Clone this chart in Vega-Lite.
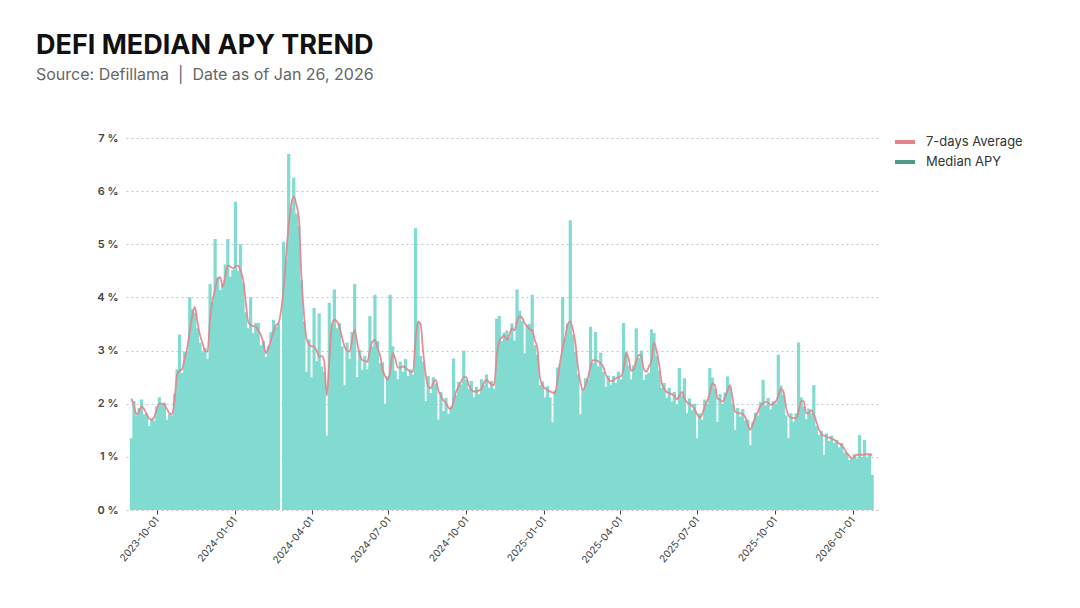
{
  "$schema": "https://vega.github.io/schema/vega-lite/v6.json",
  "width": 752,
  "height": 372,
  "autosize": {"type": "none"},
  "padding": {"left": 126, "top": 138, "right": 202, "bottom": 98},
  "background": "#ffffff",
  "title": {
    "text": "DEFI MEDIAN APY TREND",
    "subtitle": "Source: Defillama \u00a0|\u00a0 Date as of Jan 26, 2026",
    "anchor": "start",
    "frame": "group",
    "dx": -90,
    "offset": 46,
    "font": "Inter",
    "fontSize": 27,
    "fontWeight": 700,
    "color": "#111111",
    "subtitleFont": "Inter",
    "subtitleFontSize": 16,
    "subtitleColor": "#666666",
    "subtitlePadding": 7
  },
  "config": {
    "view": {"stroke": null},
    "font": "Inter"
  },
  "data": {
    "values": [
      {"d":"2023-09-01","v":1.35,"a":2.10},
      {"d":"2023-09-04","v":2.05,"a":1.95},
      {"d":"2023-09-07","v":1.78,"a":1.80},
      {"d":"2023-09-10","v":1.92,"a":1.85},
      {"d":"2023-09-13","v":2.08,"a":1.95},
      {"d":"2023-09-16","v":1.80,"a":1.90},
      {"d":"2023-09-19","v":1.82,"a":1.80},
      {"d":"2023-09-22","v":1.58,"a":1.72},
      {"d":"2023-09-25","v":1.72,"a":1.70},
      {"d":"2023-09-28","v":1.68,"a":1.75},
      {"d":"2023-10-01","v":1.95,"a":1.90},
      {"d":"2023-10-04","v":2.12,"a":2.00},
      {"d":"2023-10-07","v":1.98,"a":2.00},
      {"d":"2023-10-10","v":2.02,"a":1.98},
      {"d":"2023-10-13","v":1.70,"a":1.90},
      {"d":"2023-10-16","v":1.81,"a":1.82},
      {"d":"2023-10-19","v":1.78,"a":1.80},
      {"d":"2023-10-22","v":2.18,"a":2.07},
      {"d":"2023-10-25","v":2.65,"a":2.55},
      {"d":"2023-10-28","v":3.30,"a":2.62},
      {"d":"2023-10-31","v":2.58,"a":2.65},
      {"d":"2023-11-03","v":2.98,"a":2.85},
      {"d":"2023-11-06","v":2.98,"a":3.05},
      {"d":"2023-11-09","v":4.00,"a":3.36},
      {"d":"2023-11-12","v":3.78,"a":3.65},
      {"d":"2023-11-15","v":3.71,"a":3.82},
      {"d":"2023-11-18","v":3.42,"a":3.55},
      {"d":"2023-11-21","v":3.15,"a":3.30},
      {"d":"2023-11-24","v":2.97,"a":3.14},
      {"d":"2023-11-27","v":3.05,"a":3.00},
      {"d":"2023-11-30","v":2.84,"a":2.98},
      {"d":"2023-12-03","v":4.25,"a":3.60},
      {"d":"2023-12-06","v":3.92,"a":3.95},
      {"d":"2023-12-09","v":5.10,"a":4.15},
      {"d":"2023-12-12","v":4.38,"a":4.35},
      {"d":"2023-12-15","v":4.14,"a":4.38},
      {"d":"2023-12-18","v":4.25,"a":4.20},
      {"d":"2023-12-21","v":4.62,"a":4.40},
      {"d":"2023-12-24","v":5.10,"a":4.60},
      {"d":"2023-12-27","v":4.39,"a":4.58},
      {"d":"2023-12-30","v":4.52,"a":4.55},
      {"d":"2024-01-02","v":5.80,"a":4.58},
      {"d":"2024-01-05","v":4.50,"a":4.60},
      {"d":"2024-01-08","v":5.00,"a":4.50},
      {"d":"2024-01-11","v":4.28,"a":4.35},
      {"d":"2024-01-14","v":3.72,"a":3.95},
      {"d":"2024-01-17","v":3.42,"a":3.55},
      {"d":"2024-01-20","v":4.00,"a":3.48},
      {"d":"2024-01-23","v":3.33,"a":3.46},
      {"d":"2024-01-26","v":3.52,"a":3.45},
      {"d":"2024-01-29","v":3.52,"a":3.38},
      {"d":"2024-02-01","v":3.10,"a":3.30},
      {"d":"2024-02-04","v":3.18,"a":3.15},
      {"d":"2024-02-07","v":2.88,"a":2.95},
      {"d":"2024-02-10","v":3.08,"a":3.05},
      {"d":"2024-02-13","v":3.35,"a":3.20},
      {"d":"2024-02-16","v":3.58,"a":3.35},
      {"d":"2024-02-19","v":3.44,"a":3.48},
      {"d":"2024-02-22","v":3.51,"a":3.52},
      {"d":"2024-02-25","v":0.00,"a":3.75},
      {"d":"2024-02-28","v":5.05,"a":4.17},
      {"d":"2024-03-02","v":4.70,"a":4.80},
      {"d":"2024-03-05","v":6.70,"a":5.37},
      {"d":"2024-03-08","v":5.68,"a":5.75},
      {"d":"2024-03-11","v":6.25,"a":5.90},
      {"d":"2024-03-14","v":5.58,"a":5.75},
      {"d":"2024-03-17","v":5.35,"a":5.50},
      {"d":"2024-03-20","v":4.32,"a":4.43},
      {"d":"2024-03-23","v":3.55,"a":3.70},
      {"d":"2024-03-26","v":2.60,"a":3.23},
      {"d":"2024-03-29","v":3.21,"a":3.12},
      {"d":"2024-04-01","v":2.50,"a":3.08},
      {"d":"2024-04-04","v":3.80,"a":3.08},
      {"d":"2024-04-07","v":2.80,"a":3.00},
      {"d":"2024-04-10","v":3.70,"a":2.88},
      {"d":"2024-04-13","v":2.70,"a":2.90},
      {"d":"2024-04-16","v":2.60,"a":2.80},
      {"d":"2024-04-19","v":1.40,"a":2.15},
      {"d":"2024-04-22","v":3.90,"a":2.80},
      {"d":"2024-04-25","v":3.49,"a":3.48},
      {"d":"2024-04-28","v":4.15,"a":3.58},
      {"d":"2024-05-01","v":3.42,"a":3.55},
      {"d":"2024-05-04","v":3.52,"a":3.45},
      {"d":"2024-05-07","v":3.08,"a":3.25},
      {"d":"2024-05-10","v":2.35,"a":3.08},
      {"d":"2024-05-13","v":3.15,"a":3.00},
      {"d":"2024-05-16","v":2.84,"a":2.98},
      {"d":"2024-05-19","v":3.35,"a":3.20},
      {"d":"2024-05-22","v":4.25,"a":3.39},
      {"d":"2024-05-25","v":2.50,"a":3.15},
      {"d":"2024-05-28","v":3.01,"a":2.92},
      {"d":"2024-05-31","v":2.64,"a":2.82},
      {"d":"2024-06-03","v":2.90,"a":2.80},
      {"d":"2024-06-06","v":2.65,"a":2.79},
      {"d":"2024-06-09","v":3.65,"a":3.00},
      {"d":"2024-06-12","v":3.08,"a":3.17},
      {"d":"2024-06-15","v":4.05,"a":3.20},
      {"d":"2024-06-18","v":3.18,"a":3.05},
      {"d":"2024-06-21","v":2.76,"a":2.92},
      {"d":"2024-06-24","v":2.78,"a":2.65},
      {"d":"2024-06-27","v":2.00,"a":2.52},
      {"d":"2024-06-30","v":2.52,"a":2.45},
      {"d":"2024-07-03","v":4.05,"a":2.60},
      {"d":"2024-07-06","v":3.08,"a":2.95},
      {"d":"2024-07-09","v":2.62,"a":2.85},
      {"d":"2024-07-12","v":2.46,"a":2.68},
      {"d":"2024-07-15","v":2.79,"a":2.68},
      {"d":"2024-07-18","v":2.60,"a":2.70},
      {"d":"2024-07-21","v":2.84,"a":2.68},
      {"d":"2024-07-24","v":2.52,"a":2.64},
      {"d":"2024-07-27","v":2.65,"a":2.60},
      {"d":"2024-07-30","v":2.55,"a":2.60},
      {"d":"2024-08-02","v":5.30,"a":3.20},
      {"d":"2024-08-05","v":3.52,"a":3.55},
      {"d":"2024-08-08","v":2.90,"a":3.50},
      {"d":"2024-08-11","v":2.79,"a":2.98},
      {"d":"2024-08-14","v":2.05,"a":2.55},
      {"d":"2024-08-17","v":2.52,"a":2.33},
      {"d":"2024-08-20","v":2.20,"a":2.29},
      {"d":"2024-08-23","v":2.50,"a":2.40},
      {"d":"2024-08-26","v":2.38,"a":2.45},
      {"d":"2024-08-29","v":1.70,"a":2.25},
      {"d":"2024-09-01","v":2.22,"a":2.15},
      {"d":"2024-09-04","v":1.86,"a":2.06},
      {"d":"2024-09-07","v":2.11,"a":2.02},
      {"d":"2024-09-10","v":1.81,"a":1.92},
      {"d":"2024-09-13","v":1.95,"a":1.90},
      {"d":"2024-09-16","v":2.85,"a":2.05},
      {"d":"2024-09-19","v":2.16,"a":2.23},
      {"d":"2024-09-22","v":2.41,"a":2.32},
      {"d":"2024-09-25","v":2.36,"a":2.42},
      {"d":"2024-09-28","v":3.00,"a":2.50},
      {"d":"2024-10-01","v":2.45,"a":2.50},
      {"d":"2024-10-04","v":2.28,"a":2.35},
      {"d":"2024-10-07","v":2.43,"a":2.26},
      {"d":"2024-10-10","v":2.12,"a":2.23},
      {"d":"2024-10-13","v":2.32,"a":2.23},
      {"d":"2024-10-16","v":2.18,"a":2.25},
      {"d":"2024-10-19","v":2.46,"a":2.28},
      {"d":"2024-10-22","v":2.35,"a":2.40},
      {"d":"2024-10-25","v":2.55,"a":2.45},
      {"d":"2024-10-28","v":2.30,"a":2.40},
      {"d":"2024-10-31","v":2.43,"a":2.36},
      {"d":"2024-11-03","v":2.28,"a":2.35},
      {"d":"2024-11-06","v":3.60,"a":2.90},
      {"d":"2024-11-09","v":3.65,"a":3.17},
      {"d":"2024-11-12","v":3.18,"a":3.25},
      {"d":"2024-11-15","v":3.34,"a":3.28},
      {"d":"2024-11-18","v":3.38,"a":3.20},
      {"d":"2024-11-21","v":3.25,"a":3.30},
      {"d":"2024-11-24","v":3.51,"a":3.42},
      {"d":"2024-11-27","v":3.19,"a":3.38},
      {"d":"2024-11-30","v":4.15,"a":3.55},
      {"d":"2024-12-03","v":3.75,"a":3.65},
      {"d":"2024-12-06","v":3.56,"a":3.62},
      {"d":"2024-12-09","v":2.95,"a":3.52},
      {"d":"2024-12-12","v":3.48,"a":3.46},
      {"d":"2024-12-15","v":3.50,"a":3.40},
      {"d":"2024-12-18","v":4.05,"a":3.38},
      {"d":"2024-12-21","v":3.10,"a":3.20},
      {"d":"2024-12-24","v":2.92,"a":3.05},
      {"d":"2024-12-27","v":2.35,"a":2.50},
      {"d":"2024-12-30","v":2.42,"a":2.35},
      {"d":"2025-01-02","v":2.12,"a":2.29},
      {"d":"2025-01-05","v":2.33,"a":2.26},
      {"d":"2025-01-08","v":2.12,"a":2.23},
      {"d":"2025-01-11","v":1.65,"a":2.21},
      {"d":"2025-01-14","v":2.25,"a":2.20},
      {"d":"2025-01-17","v":2.68,"a":2.45},
      {"d":"2025-01-20","v":2.74,"a":2.78},
      {"d":"2025-01-23","v":4.00,"a":3.05},
      {"d":"2025-01-26","v":3.22,"a":3.25},
      {"d":"2025-01-29","v":3.50,"a":3.50},
      {"d":"2025-02-01","v":5.45,"a":3.55},
      {"d":"2025-02-04","v":3.30,"a":3.40},
      {"d":"2025-02-07","v":2.98,"a":3.15},
      {"d":"2025-02-10","v":2.55,"a":2.70},
      {"d":"2025-02-13","v":1.80,"a":2.40},
      {"d":"2025-02-16","v":2.28,"a":2.26},
      {"d":"2025-02-19","v":2.48,"a":2.35},
      {"d":"2025-02-22","v":2.45,"a":2.50},
      {"d":"2025-02-25","v":3.45,"a":2.70},
      {"d":"2025-02-28","v":2.76,"a":2.82},
      {"d":"2025-03-03","v":3.35,"a":2.82},
      {"d":"2025-03-06","v":2.70,"a":2.80},
      {"d":"2025-03-09","v":2.96,"a":2.76},
      {"d":"2025-03-12","v":2.60,"a":2.70},
      {"d":"2025-03-15","v":2.32,"a":2.55},
      {"d":"2025-03-18","v":2.53,"a":2.46},
      {"d":"2025-03-21","v":2.36,"a":2.42},
      {"d":"2025-03-24","v":2.52,"a":2.44},
      {"d":"2025-03-27","v":2.39,"a":2.48},
      {"d":"2025-03-30","v":2.60,"a":2.50},
      {"d":"2025-04-02","v":2.46,"a":2.52},
      {"d":"2025-04-05","v":3.52,"a":2.65},
      {"d":"2025-04-08","v":2.98,"a":2.95},
      {"d":"2025-04-11","v":2.72,"a":2.85},
      {"d":"2025-04-14","v":2.46,"a":2.62},
      {"d":"2025-04-17","v":2.72,"a":2.65},
      {"d":"2025-04-20","v":3.42,"a":2.80},
      {"d":"2025-04-23","v":2.86,"a":2.92},
      {"d":"2025-04-26","v":3.00,"a":2.90},
      {"d":"2025-04-29","v":2.45,"a":2.65},
      {"d":"2025-05-02","v":2.55,"a":2.60},
      {"d":"2025-05-05","v":2.58,"a":2.70},
      {"d":"2025-05-08","v":3.40,"a":2.80},
      {"d":"2025-05-11","v":3.33,"a":3.15},
      {"d":"2025-05-14","v":2.90,"a":3.00},
      {"d":"2025-05-17","v":2.62,"a":2.75},
      {"d":"2025-05-20","v":2.30,"a":2.40},
      {"d":"2025-05-23","v":2.39,"a":2.28},
      {"d":"2025-05-26","v":2.11,"a":2.22},
      {"d":"2025-05-29","v":2.30,"a":2.20},
      {"d":"2025-06-01","v":2.04,"a":2.18},
      {"d":"2025-06-04","v":2.22,"a":2.15},
      {"d":"2025-06-07","v":1.99,"a":2.08},
      {"d":"2025-06-10","v":2.67,"a":2.15},
      {"d":"2025-06-13","v":2.16,"a":2.22},
      {"d":"2025-06-16","v":2.48,"a":2.10},
      {"d":"2025-06-19","v":1.82,"a":2.03},
      {"d":"2025-06-22","v":2.10,"a":2.00},
      {"d":"2025-06-25","v":1.88,"a":1.96},
      {"d":"2025-06-28","v":2.00,"a":1.90},
      {"d":"2025-07-01","v":1.35,"a":1.80},
      {"d":"2025-07-04","v":1.82,"a":1.74},
      {"d":"2025-07-07","v":1.70,"a":1.80},
      {"d":"2025-07-10","v":2.08,"a":1.95},
      {"d":"2025-07-13","v":1.98,"a":2.05},
      {"d":"2025-07-16","v":2.67,"a":2.20},
      {"d":"2025-07-19","v":2.49,"a":2.38},
      {"d":"2025-07-22","v":2.28,"a":2.35},
      {"d":"2025-07-25","v":1.66,"a":2.10},
      {"d":"2025-07-28","v":2.18,"a":2.07},
      {"d":"2025-07-31","v":2.00,"a":2.04},
      {"d":"2025-08-03","v":2.21,"a":2.12},
      {"d":"2025-08-06","v":2.51,"a":2.25},
      {"d":"2025-08-09","v":2.32,"a":2.35},
      {"d":"2025-08-12","v":2.00,"a":2.10},
      {"d":"2025-08-15","v":1.51,"a":1.85},
      {"d":"2025-08-18","v":1.92,"a":1.83},
      {"d":"2025-08-21","v":1.76,"a":1.82},
      {"d":"2025-08-24","v":1.90,"a":1.80},
      {"d":"2025-08-27","v":1.68,"a":1.75},
      {"d":"2025-08-30","v":1.70,"a":1.60},
      {"d":"2025-09-02","v":1.22,"a":1.51},
      {"d":"2025-09-05","v":1.66,"a":1.62},
      {"d":"2025-09-08","v":1.83,"a":1.76},
      {"d":"2025-09-11","v":1.78,"a":1.85},
      {"d":"2025-09-14","v":2.03,"a":1.96},
      {"d":"2025-09-17","v":2.45,"a":2.00},
      {"d":"2025-09-20","v":1.97,"a":2.04},
      {"d":"2025-09-23","v":2.11,"a":2.02},
      {"d":"2025-09-26","v":1.89,"a":1.98},
      {"d":"2025-09-29","v":2.05,"a":2.00},
      {"d":"2025-10-02","v":2.00,"a":2.04},
      {"d":"2025-10-05","v":2.92,"a":2.15},
      {"d":"2025-10-08","v":2.34,"a":2.28},
      {"d":"2025-10-11","v":2.16,"a":2.23},
      {"d":"2025-10-14","v":1.78,"a":1.95},
      {"d":"2025-10-17","v":1.35,"a":1.78},
      {"d":"2025-10-20","v":1.82,"a":1.74},
      {"d":"2025-10-23","v":1.66,"a":1.73},
      {"d":"2025-10-26","v":1.82,"a":1.73},
      {"d":"2025-10-29","v":3.15,"a":1.85},
      {"d":"2025-11-01","v":2.12,"a":2.05},
      {"d":"2025-11-04","v":1.95,"a":2.05},
      {"d":"2025-11-07","v":1.71,"a":1.82},
      {"d":"2025-11-10","v":1.91,"a":1.82},
      {"d":"2025-11-13","v":1.82,"a":1.88},
      {"d":"2025-11-16","v":2.35,"a":1.80},
      {"d":"2025-11-19","v":1.58,"a":1.66},
      {"d":"2025-11-22","v":1.41,"a":1.52},
      {"d":"2025-11-25","v":1.49,"a":1.43},
      {"d":"2025-11-28","v":1.04,"a":1.40},
      {"d":"2025-12-01","v":1.44,"a":1.38},
      {"d":"2025-12-04","v":1.30,"a":1.36},
      {"d":"2025-12-07","v":1.40,"a":1.35},
      {"d":"2025-12-10","v":1.26,"a":1.32},
      {"d":"2025-12-13","v":1.32,"a":1.29},
      {"d":"2025-12-16","v":1.18,"a":1.25},
      {"d":"2025-12-19","v":1.26,"a":1.22},
      {"d":"2025-12-22","v":1.08,"a":1.15},
      {"d":"2025-12-25","v":1.08,"a":1.07},
      {"d":"2025-12-28","v":0.94,"a":1.02},
      {"d":"2025-12-31","v":0.96,"a":0.97},
      {"d":"2026-01-03","v":1.05,"a":1.00},
      {"d":"2026-01-06","v":0.97,"a":1.04},
      {"d":"2026-01-09","v":1.41,"a":1.04},
      {"d":"2026-01-12","v":1.00,"a":1.04},
      {"d":"2026-01-15","v":1.32,"a":1.04},
      {"d":"2026-01-18","v":0.98,"a":1.05},
      {"d":"2026-01-21","v":1.07,"a":1.04},
      {"d":"2026-01-24","v":0.66,"a":1.04}
    ]
  },
  "layer": [
    {
      "mark": {"type": "bar", "color": "#81dbd0", "width": 3.2, "clip": true},
      "encoding": {
        "x": {
          "field": "d",
          "type": "temporal",
          "scale": {
            "type": "utc",
            "domain": [
              {"year": 2023, "month": 8, "date": 31, "hours": 12, "utc": true},
              {"year": 2026, "month": 1, "date": 25, "utc": true}
            ]
          },
          "axis": {
            "title": null,
            "domain": false,
            "grid": false,
            "ticks": true,
            "tickSize": 4,
            "tickColor": "#444444",
            "labelAngle": -50,
            "labelFont": "Inter",
            "labelFontSize": 10,
            "labelColor": "#444444",
            "labelPadding": 4,
            "labelExpr": "utcFormat(datum.value, '%Y-%m-%d')",
            "values": [
              {"year": 2023, "month": 10, "date": 1, "utc": true},
              {"year": 2024, "month": 1, "date": 1, "utc": true},
              {"year": 2024, "month": 4, "date": 1, "utc": true},
              {"year": 2024, "month": 7, "date": 1, "utc": true},
              {"year": 2024, "month": 10, "date": 1, "utc": true},
              {"year": 2025, "month": 1, "date": 1, "utc": true},
              {"year": 2025, "month": 4, "date": 1, "utc": true},
              {"year": 2025, "month": 7, "date": 1, "utc": true},
              {"year": 2025, "month": 10, "date": 1, "utc": true},
              {"year": 2026, "month": 1, "date": 1, "utc": true}
            ]
          }
        },
        "y": {
          "field": "v",
          "type": "quantitative",
          "scale": {"domain": [0, 7], "nice": false},
          "axis": {
            "title": null,
            "domain": false,
            "ticks": false,
            "grid": true,
            "gridColor": "#c4c4c4",
            "gridDash": [2, 3],
            "gridWidth": 1,
            "values": [0, 1, 2, 3, 4, 5, 6, 7],
            "labelExpr": "datum.value + ' %'",
            "labelFont": "Inter",
            "labelFontSize": 11,
            "labelFontWeight": 600,
            "labelColor": "#444444",
            "labelPadding": 8
          }
        }
      }
    },
    {
      "mark": {"type": "line", "strokeWidth": 1.8, "opacity": 0.9, "interpolate": "monotone", "clip": true},
      "encoding": {
        "x": {"field": "d", "type": "temporal"},
        "y": {"field": "a", "type": "quantitative"},
        "color": {
          "datum": "7-days Average",
          "scale": {
            "domain": ["7-days Average", "Median APY"],
            "range": ["#e4838b", "#4e9d8a"]
          },
          "legend": {
            "title": null,
            "orient": "none",
            "legendX": 767,
            "legendY": -8,
            "padding": 0,
            "symbolType": "stroke",
            "symbolSize": 400,
            "symbolStrokeWidth": 4,
            "symbolOpacity": 1,
            "rowPadding": -1,
            "labelOffset": 9,
            "labelFont": "Inter",
            "labelFontSize": 13,
            "labelColor": "#333333"
          }
        }
      }
    }
  ]
}
